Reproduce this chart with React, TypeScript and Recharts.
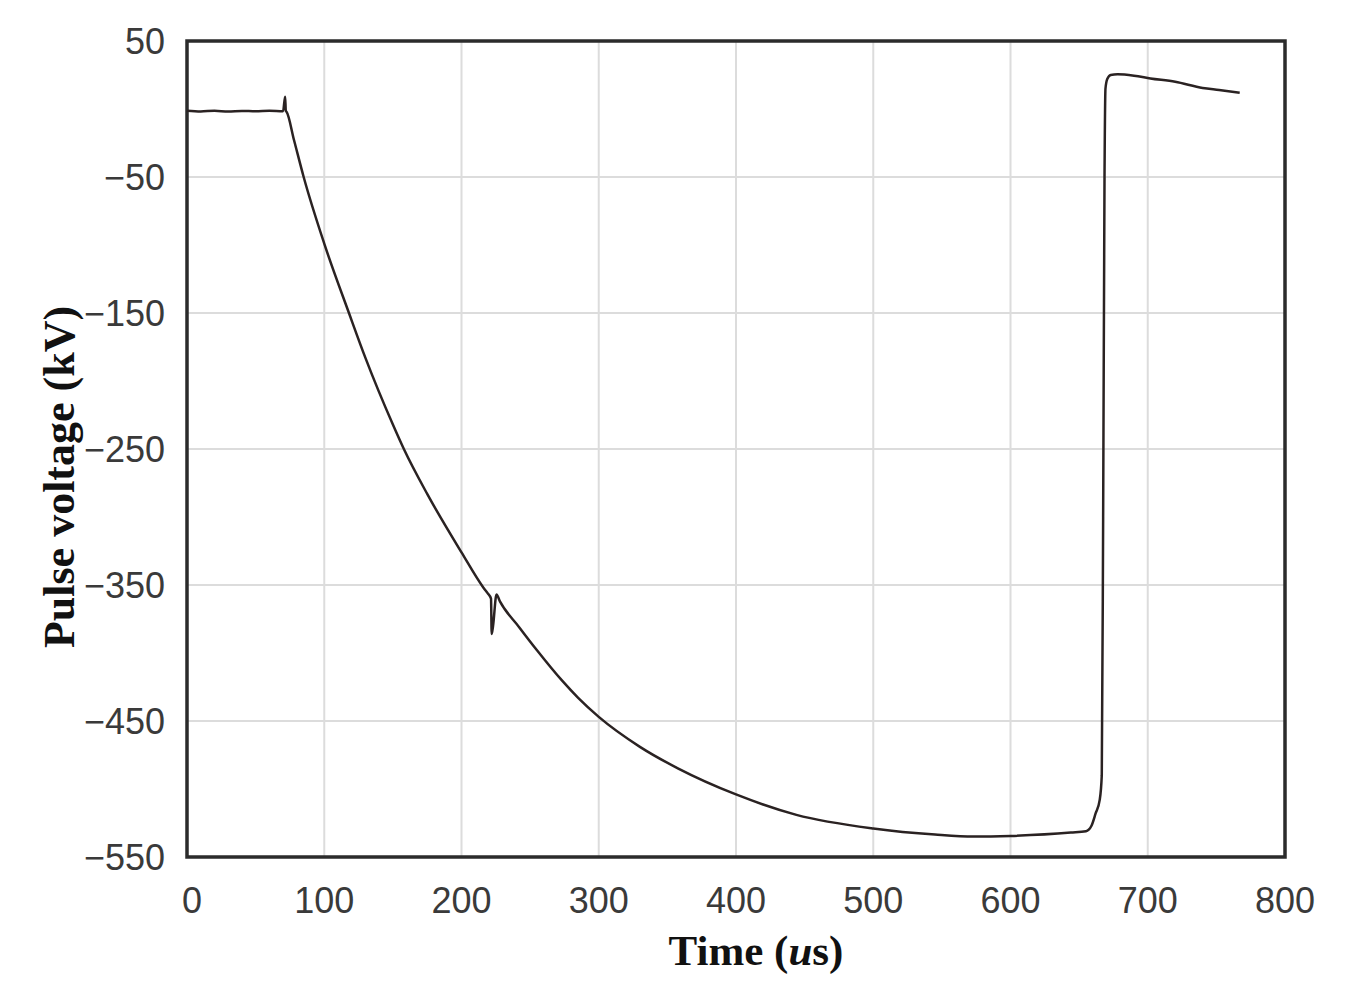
import { LineChart, Line, XAxis, YAxis, CartesianGrid, ReferenceArea } from 'recharts';

// time (us) of each sampled point
const TIME = [
  0, 10, 20, 30, 40, 50, 60, 70, 71.5, 72, 72.5, 78, 85, 100, 118, 130, 150, 158, 175, 200, 216, 219,
  221.5, 222, 223, 225.5, 228, 242, 255, 273, 285, 300, 330, 358, 400, 444, 500, 545, 573, 600, 644,
  655, 659, 662, 665, 666.5, 667.5, 668.5, 669.2, 670.5, 673, 678, 690, 702, 720, 740, 752, 767,
];

// pulse voltage (kV)
const VOLTAGE = [
  -1.2, -1.8, -1.3, -1.9, -1.4, -1.7, -1.2, -1.6, 9, -1.5, -2, -23, -50, -99, -150, -183, -232, -250,
  -283, -326, -352, -356, -360, -386, -380, -357, -362, -381, -398, -420, -433, -447, -469, -485, -504,
  -519, -529, -533.5, -535, -534.5, -532, -531, -527, -518, -508, -490, -300, -50, 15, 22, 25, 25.5,
  24.5, 22.5, 20, 15.5, 14, 12,
];

const X_TICKS = [0, 100, 200, 300, 400, 500, 600, 700, 800];
const Y_TICKS = [50, -50, -150, -250, -350, -450, -550];

const data = TIME.map((t, i) => ({ t, v: VOLTAGE[i] }));

const TICK_FONT = { fill: '#3a3a3a', fontSize: 36, fontFamily: 'Liberation Sans, Arial, sans-serif' };
const TITLE_FONT = 'Liberation Serif, Times New Roman, serif';

const XTick = (props: any) => {
  const { x, y, payload } = props;
  return (
    <text
      x={x + (payload.value === 0 ? 5 : 0)}
      y={y}
      dy="0.71em"
      textAnchor="middle"
      {...TICK_FONT}
    >
      {payload.value}
    </text>
  );
};

const XTitle = () => (
  <text x={748} y={957} textAnchor="middle" fontFamily={TITLE_FONT} fontWeight="bold" fontSize={43} fill="#111">
    Time (<tspan fontStyle="italic">u</tspan>s)
  </text>
);

const YTitle = () => (
  <text
    x={66}
    y={469}
    transform="rotate(-90, 66, 469)"
    textAnchor="middle"
    fontFamily={TITLE_FONT}
    fontWeight="bold"
    fontSize={44}
    fill="#111"
  >
    Pulse voltage (kV)
  </text>
);

export default function App() {
  return (
    <LineChart width={1340} height={990} data={data} margin={{ top: 33, right: 63, bottom: 0, left: 0 }}>
      <CartesianGrid stroke="#dcdcdc" strokeWidth={2} />
      <XAxis
        dataKey="t"
        type="number"
        domain={[0, 800]}
        ticks={X_TICKS}
        interval={0}
        height={141}
        axisLine={false}
        tickLine={false}
        tickSize={0}
        tickMargin={30}
        tick={<XTick />}
        label={{ content: () => <XTitle /> }}
      />
      <YAxis
        type="number"
        domain={[-550, 50]}
        ticks={Y_TICKS}
        interval={0}
        width={179}
        axisLine={false}
        tickLine={false}
        tickSize={0}
        tickMargin={22}
        tick={TICK_FONT}
        tickFormatter={(v: number) => String(v).replace('-', '\u2212')}
        label={{ content: () => <YTitle /> }}
      />
      <ReferenceArea
        x1={0}
        x2={800}
        y1={-550}
        y2={50}
        fill="none"
        fillOpacity={0}
        stroke="#2b2b2b"
        strokeWidth={3.5}
        ifOverflow="visible"
      />
      <Line
        dataKey="v"
        type="monotone"
        stroke="#2a2222"
        strokeWidth={2.5}
        dot={false}
        isAnimationActive={false}
      />
    </LineChart>
  );
}
